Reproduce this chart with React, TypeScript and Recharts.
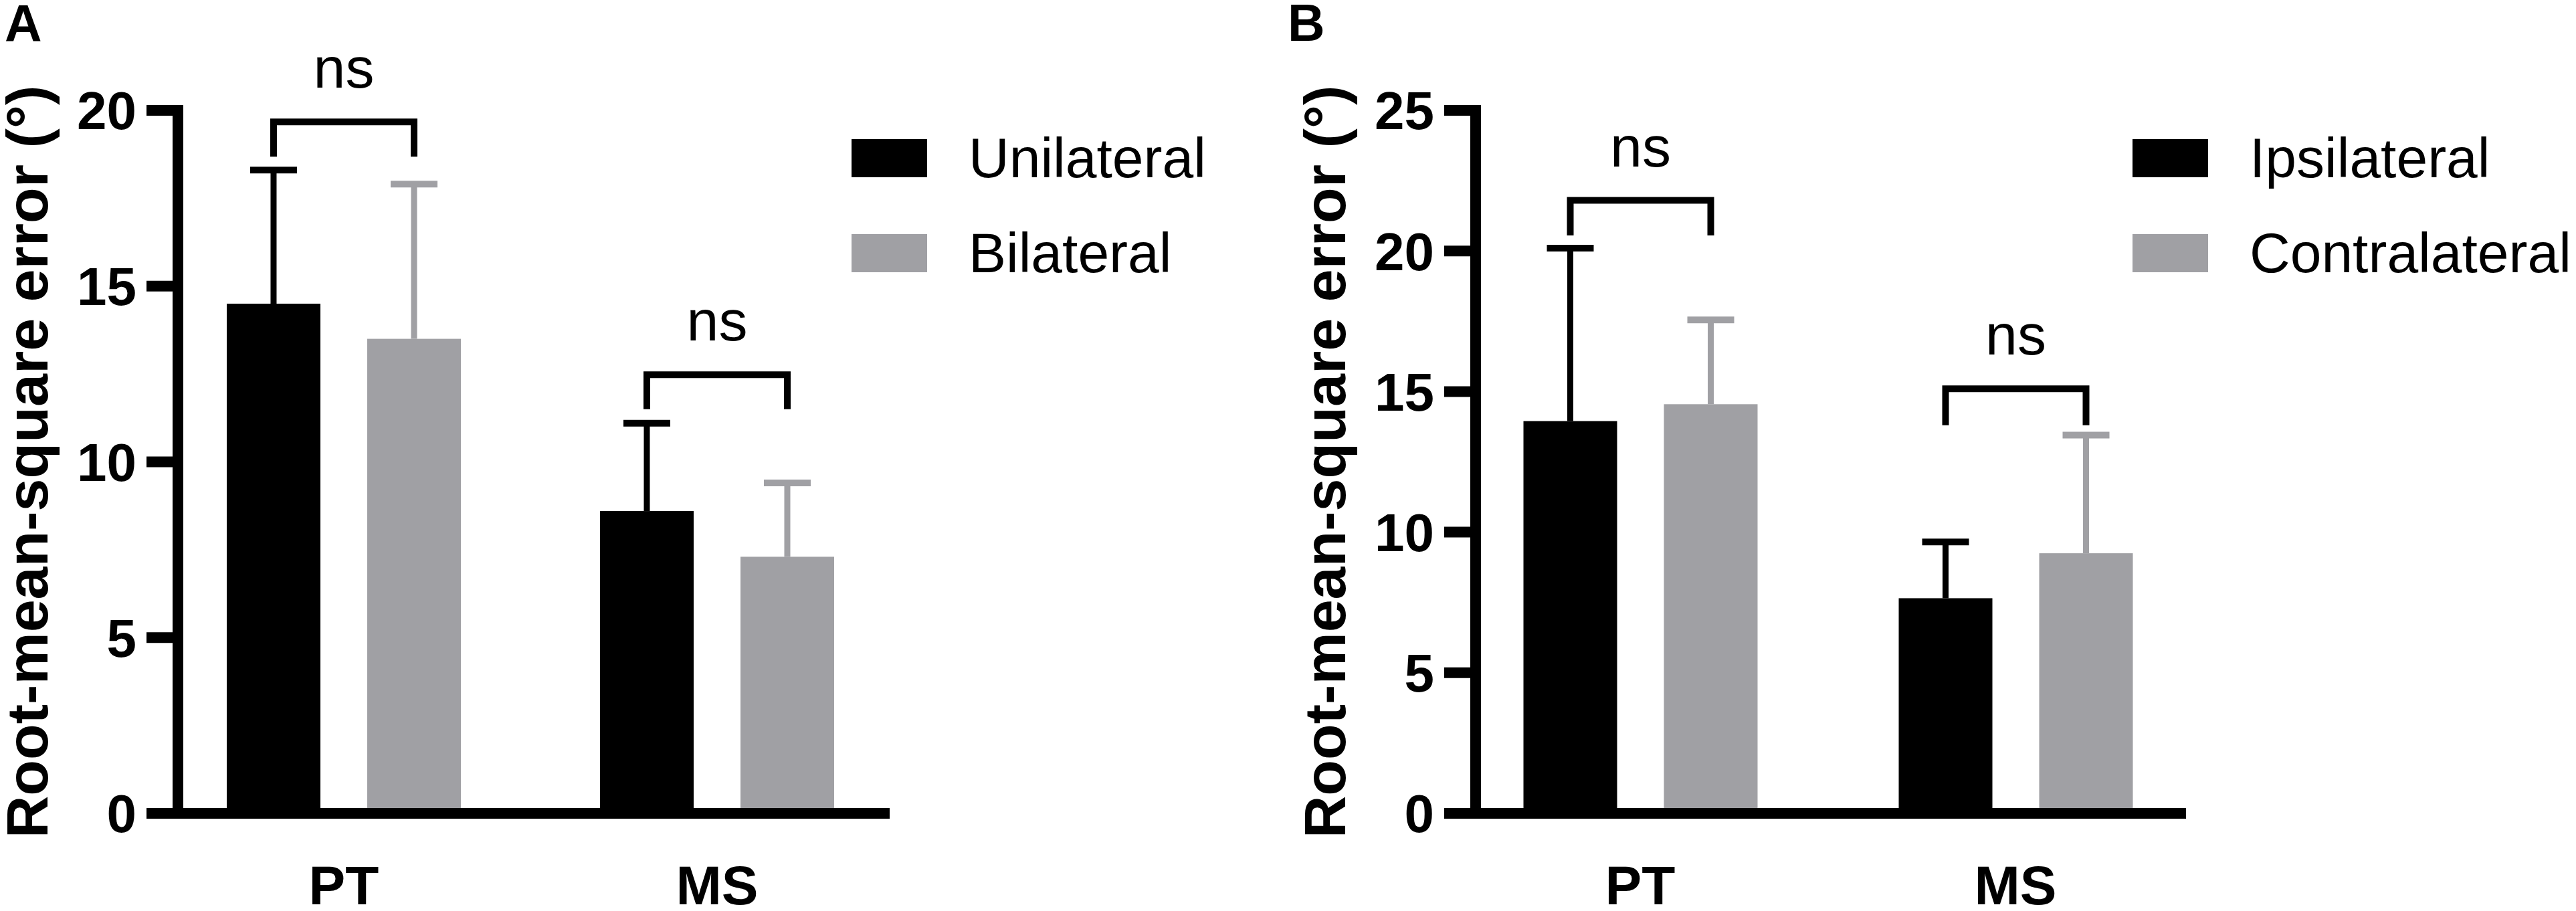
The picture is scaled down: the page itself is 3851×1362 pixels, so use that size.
import React from 'react';
import { BarChart, Bar, XAxis, YAxis, Legend } from 'recharts';

// ---------- shared ----------
const categories = ['PT', 'MS'];
const categoryPos = [0, 1];
const seriesColors = ['#000000', '#a0a0a4'];
const yLabelText = 'Root-mean-square error (°)';

// ---------- panel A ----------
const seriesNamesA = ['Unilateral', 'Bilateral'];
const unilateralMean = [14.5, 8.6];
const unilateralSD = [3.8, 2.5];
const bilateralMean = [13.5, 7.3];
const bilateralSD = [4.4, 2.1];
const bracketTopA = [19.67, 12.48];
const bracketFootA = [18.68, 11.5];
const sigA = ['ns', 'ns'];
const yTicksA = [0, 5, 10, 15, 20];

// ---------- panel B ----------
const seriesNamesB = ['Ipsilateral', 'Contralateral'];
const ipsilateralMean = [13.95, 7.65];
const ipsilateralSD = [6.15, 2.0];
const contralateralMean = [14.55, 9.25];
const contralateralSD = [3.0, 4.2];
const bracketTopB = [21.8, 15.1];
const bracketFootB = [20.55, 13.8];
const sigB = ['ns', 'ns'];
const yTicksB = [0, 5, 10, 15, 20, 25];

const FONT = '"Liberation Sans", Arial, Helvetica, sans-serif';
const BAR_SIZE = 140;
const BAR_GAP = 70;
const CHART_H = 1362;
const AXIS_W = 266;

function buildRows(m1: number[], s1: number[], m2: number[], s2: number[], bt: number[], bf: number[], sig: string[]) {
  return categories.map((c, i) => ({
    pos: categoryPos[i],
    cat: c,
    v1: m1[i],
    sd1: s1[i],
    v2: m2[i],
    sd2: s2[i],
    bTop: bt[i],
    bFoot: bf[i],
    sig: sig[i],
  }));
}

const rowsA = buildRows(unilateralMean, unilateralSD, bilateralMean, bilateralSD, bracketTopA, bracketFootA, sigA);
const rowsB = buildRows(ipsilateralMean, ipsilateralSD, contralateralMean, contralateralSD, bracketTopB, bracketFootB, sigB);

function makeShape(valueKey: string, sdKey: string, color: string, withBracket: boolean) {
  return (props: any) => {
    const { x, y, width, height, payload } = props;
    const v = payload[valueKey];
    const base = y + height;
    const ppu = height / v;
    const toY = (val: number) => base - val * ppu;
    const cx = x + width / 2;
    const topY = toY(v + payload[sdKey]);
    const half = width / 4;
    const els: any[] = [
      <rect key="r" x={x} y={y} width={width} height={height} fill={color} />,
      <line key="w" x1={cx} x2={cx} y1={y} y2={topY} stroke={color} strokeWidth={9} />,
      <line key="c" x1={cx - half} x2={cx + half} y1={topY} y2={topY} stroke={color} strokeWidth={10} />,
    ];
    if (withBracket) {
      const lx = cx - (width + BAR_GAP);
      const by = toY(payload.bTop);
      const fy = toY(payload.bFoot);
      els.push(
        <path
          key="b"
          d={`M${lx},${fy}V${by}H${cx}V${fy}`}
          fill="none"
          stroke="#000"
          strokeWidth={10}
          strokeLinejoin="miter"
        />
      );
      els.push(
        <text
          key="t"
          x={(lx + cx) / 2}
          y={by - 51}
          textAnchor="middle"
          fontSize={86}
          fontFamily={FONT}
          fill="#000"
        >
          {payload.sig}
        </text>
      );
    }
    return <g>{els}</g>;
  };
}

function makeLegend(names: string[]) {
  return () => (
    <div>
      {names.map((n, i) => (
        <div
          key={n}
          style={{ display: 'flex', alignItems: 'center', height: 57, marginBottom: i === 0 ? 85 : 0 }}
        >
          <div style={{ width: 113, height: 57, background: seriesColors[i], flex: 'none' }} />
          <span
            style={{
              marginLeft: 62,
              fontSize: 84,
              fontFamily: FONT,
              lineHeight: '57px',
              color: '#000',
              whiteSpace: 'nowrap',
            }}
          >
            {n}
          </span>
        </div>
      ))}
    </div>
  );
}

const yLabelContent = (p: any) => {
  const vb = p.viewBox || {};
  const lx = (vb.x || 0) + 71;
  const cy = (vb.y || 0) + (vb.height || 0) / 2;
  return (
    <text
      x={lx}
      y={cy}
      transform={`rotate(-90 ${lx} ${cy})`}
      textAnchor="middle"
      fontSize={88}
      fontWeight={700}
      fontFamily={FONT}
      fill="#000"
    >
      {yLabelText}
    </text>
  );
};

function Panel(props: {
  rows: any[];
  names: string[];
  yMax: number;
  yTicks: number[];
  width: number;
  plotW: number;
  xDomain: [number, number];
  legendLeft: number;
}) {
  const { rows, names, yMax, yTicks, width, plotW, xDomain, legendLeft } = props;
  return (
    <BarChart
      width={width}
      height={CHART_H}
      data={rows}
      margin={{ top: 165, right: width - AXIS_W - plotW, bottom: 46, left: 0 }}
      barGap={BAR_GAP}
    >
      <XAxis
        dataKey="pos"
        type="number"
        domain={xDomain}
        ticks={categoryPos}
        tickCount={2}
        interval={0}
        tickFormatter={(v: number) => categories[Math.round(v)]}
        axisLine={{ stroke: '#000', strokeWidth: 16 }}
        tickLine={false}
        height={100}
        tickMargin={72}
        tick={{ fill: '#000', fontSize: 82, fontWeight: 700, fontFamily: FONT }}
      />
      <YAxis
        type="number"
        domain={[0, yMax]}
        ticks={yTicks}
        interval={0}
        width={AXIS_W}
        tickSize={47}
        tickMargin={15}
        axisLine={{ stroke: '#000', strokeWidth: 16, strokeLinecap: 'square' }}
        tickLine={{ stroke: '#000', strokeWidth: 16 }}
        tick={{ fill: '#000', fontSize: 80, fontWeight: 700, fontFamily: FONT }}
        label={{ content: yLabelContent }}
      />
      <Bar
        dataKey="v1"
        name={names[0]}
        fill={seriesColors[0]}
        barSize={BAR_SIZE}
        isAnimationActive={false}
        shape={makeShape('v1', 'sd1', seriesColors[0], false)}
      />
      <Bar
        dataKey="v2"
        name={names[1]}
        fill={seriesColors[1]}
        barSize={BAR_SIZE}
        isAnimationActive={false}
        shape={makeShape('v2', 'sd2', seriesColors[1], true)}
      />
      <Legend
        layout="vertical"
        align="center"
        verticalAlign="middle"
        wrapperStyle={{ left: legendLeft, top: 208, width: 640, height: 'auto' }}
        content={makeLegend(names)}
      />
    </BarChart>
  );
}

export default function App() {
  return (
    <div
      style={{
        position: 'absolute',
        left: 0,
        top: 0,
        width: 3851,
        height: 1362,
        background: '#fff',
        overflow: 'hidden',
      }}
    >
      <div style={{ position: 'absolute', left: 0, top: 0 }}>
        <Panel
          rows={rowsA}
          names={seriesNamesA}
          yMax={20}
          yTicks={yTicksA}
          width={1933}
          plotW={1064}
          xDomain={[-0.4444, 1.4624]}
          legendLeft={1273}
        />
      </div>
      <div style={{ position: 'absolute', left: 1940, top: 0 }}>
        <Panel
          rows={rowsB}
          names={seriesNamesB}
          yMax={25}
          yTicks={yTicksB}
          width={1911}
          plotW={1062}
          xDomain={[-0.4385, 1.4545]}
          legendLeft={1248}
        />
      </div>
      <svg
        width={3851}
        height={1362}
        style={{ position: 'absolute', left: 0, top: 0, pointerEvents: 'none' }}
      >
        <text x={7} y={62} fontSize={77} fontWeight={700} fontFamily={FONT} fill="#000">
          A
        </text>
        <text x={1925} y={61} fontSize={77} fontWeight={700} fontFamily={FONT} fill="#000">
          B
        </text>
      </svg>
    </div>
  );
}
